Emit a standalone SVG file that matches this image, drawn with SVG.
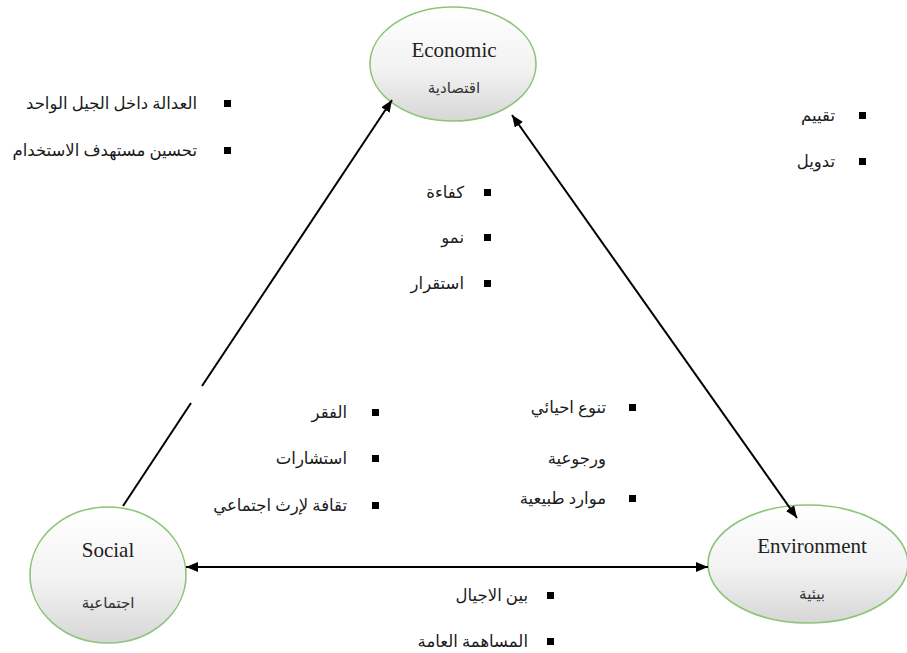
<svg xmlns="http://www.w3.org/2000/svg" width="907" height="653" viewBox="0 0 907 653">
<style>
.node{stroke:#8cc47a;stroke-width:1.6;fill:url(#g)}
.en{font-family:"Liberation Serif","Times New Roman",serif;font-size:21px;fill:#222;text-anchor:middle}
.ar{font-family:"Liberation Serif","DejaVu Sans",serif;font-size:16.5px;fill:#1a1a1a}
.arc{font-family:"Liberation Serif","DejaVu Sans",serif;font-size:15px;fill:#333;text-anchor:middle}
.it{text-anchor:end}
.b{fill:#000}
.ln{stroke:#000;stroke-width:2;fill:none}
</style>
<defs>
<linearGradient id="g" x1="0" y1="0" x2="0" y2="1">
<stop offset="0" stop-color="#ffffff"/>
<stop offset="0.55" stop-color="#f2f2f2"/>
<stop offset="1" stop-color="#d6d6d6"/>
</linearGradient>
<marker id="ah" viewBox="0 0 12 10" refX="12" refY="5" markerWidth="12" markerHeight="10" markerUnits="userSpaceOnUse" orient="auto-start-reverse">
<path d="M0,0 L12,5 L0,10 Z" fill="#000"/>
</marker>
</defs>
<rect width="907" height="653" fill="#fff"/>
<g id="economic">
<ellipse class="node" cx="453" cy="64" rx="83" ry="57"/>
<text class="en" x="454" y="57">Economic</text>
<text class="arc" x="454" y="93">اقتصادية</text>
</g>
<g id="social">
<ellipse class="node" cx="108" cy="575" rx="78" ry="68"/>
<text class="en" x="108" y="557">Social</text>
<text class="arc" x="108" y="608">اجتماعية</text>
</g>
<g id="environment">
<ellipse class="node" cx="808" cy="564" rx="100" ry="59"/>
<text class="en" x="812" y="553">Environment</text>
<text class="arc" x="812" y="599">بيئية</text>
</g>
<g id="connectors">
<line class="ln" x1="123" y1="506" x2="191" y2="403"/>
<line class="ln" x1="202" y1="386" x2="392" y2="100" marker-end="url(#ah)"/>
<line class="ln" x1="512" y1="115" x2="797" y2="518" marker-start="url(#ah)" marker-end="url(#ah)"/>
<line class="ln" x1="186" y1="567" x2="708" y2="567" marker-start="url(#ah)" marker-end="url(#ah)"/>
</g>
<g id="list-equity">
<rect class="b" x="224" y="100" width="7" height="7"/>
<text class="ar it" x="197" y="109">العدالة داخل الجيل الواحد</text>
<rect class="b" x="224" y="147" width="7" height="7"/>
<text class="ar it" x="197" y="156">تحسين مستهدف الاستخدام</text>
</g>
<g id="list-valuation">
<rect class="b" x="859" y="112" width="7" height="7"/>
<text class="ar it" x="835" y="121">تقييم</text>
<rect class="b" x="859" y="158" width="7" height="7"/>
<text class="ar it" x="835" y="167">تدويل</text>
</g>
<g id="list-economic">
<rect class="b" x="484" y="189" width="7" height="7"/>
<text class="ar it" x="464" y="198">كفاءة</text>
<rect class="b" x="484" y="234" width="7" height="7"/>
<text class="ar it" x="464" y="243">نمو</text>
<rect class="b" x="484" y="280" width="7" height="7"/>
<text class="ar it" x="464" y="289">استقرار</text>
</g>
<g id="list-social">
<rect class="b" x="372" y="409" width="7" height="7"/>
<text class="ar it" x="347" y="418">الفقر</text>
<rect class="b" x="372" y="455" width="7" height="7"/>
<text class="ar it" x="347" y="464">استشارات</text>
<rect class="b" x="372" y="502" width="7" height="7"/>
<text class="ar it" x="347" y="511">تقافة لإرث اجتماعي</text>
</g>
<g id="list-environment">
<rect class="b" x="629" y="404" width="7" height="7"/>
<text class="ar it" x="606" y="413">تنوع احيائي</text>
<text class="ar it" x="606" y="464">ورجوعية</text>
<rect class="b" x="629" y="495" width="7" height="7"/>
<text class="ar it" x="606" y="504">موارد طبيعية</text>
</g>
<g id="list-bottom">
<rect class="b" x="547" y="592" width="7" height="7"/>
<text class="ar it" x="528" y="601">بين الاجيال</text>
<rect class="b" x="547" y="638" width="7" height="7"/>
<text class="ar it" x="528" y="647">المساهمة العامة</text>
</g>
</svg>
